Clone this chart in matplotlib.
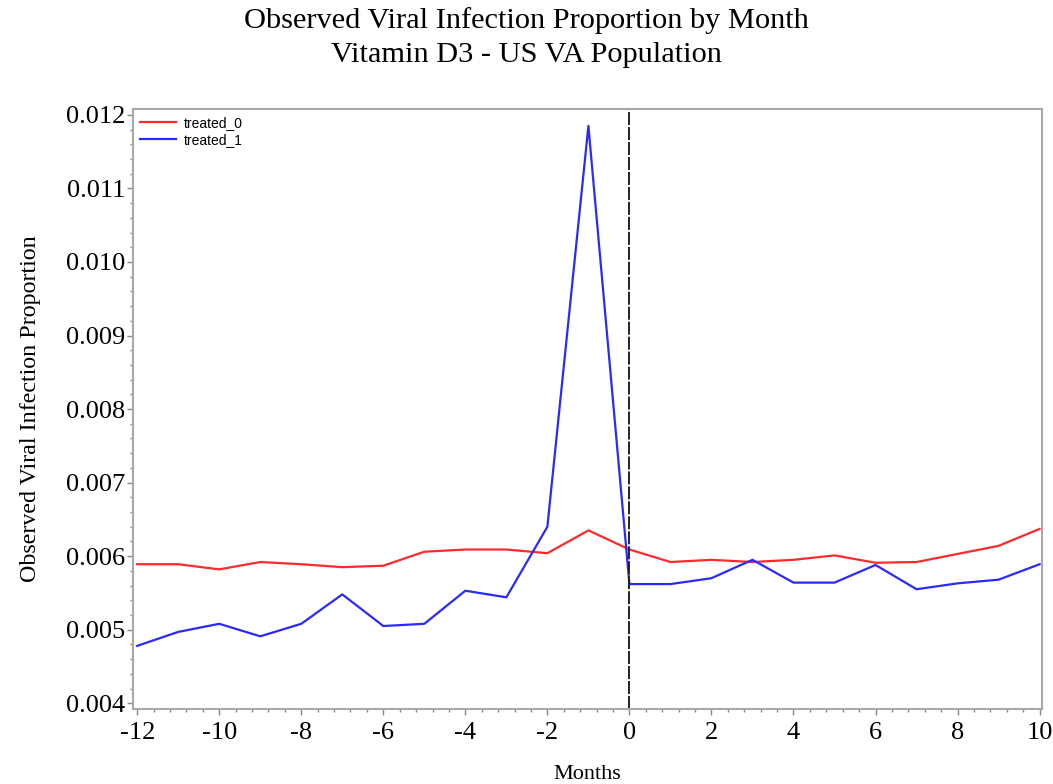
import matplotlib.pyplot as plt
from matplotlib.ticker import MultipleLocator, FormatStrFormatter

# --- data
months = list(range(-12, 11))
treated_0 = [0.00589, 0.00589, 0.00582, 0.00592, 0.00589, 0.00585, 0.00587,
             0.00606, 0.00609, 0.00609, 0.00604, 0.00635, 0.00609,
             0.00592, 0.00595, 0.00592, 0.00595, 0.00601, 0.00591,
             0.00592, 0.00603, 0.00614, 0.00637]
treated_1 = [0.00478, 0.00497, 0.00508, 0.00491, 0.00508, 0.00548, 0.00505,
             0.00508, 0.00553, 0.00544, 0.00640, 0.01185, 0.00562,
             0.00562, 0.00570, 0.00595, 0.00564, 0.00564, 0.00588,
             0.00555, 0.00563, 0.00568, 0.00589]

plt.rcParams["font.family"] = ["Liberation Serif", "DejaVu Serif"]
plt.rcParams["axes.unicode_minus"] = False

fig = plt.figure(figsize=(10.53, 7.84), dpi=100)
ax = fig.add_axes([0.126, 0.0957, 0.864, 0.7653])

ax.plot(months, treated_0, color="#ff2a2a", lw=1.6, label="treated_0")
ax.plot(months, treated_1, color="#2a2aff", lw=1.6, label="treated_1")
ax.axvline(0, color="#222222", lw=1.4, linestyle=(0, (6.7, 1.0)))

ax.set_xlim(-12.11, 10.07)
ax.set_ylim(0.003922, 0.01208)

ax.xaxis.set_major_locator(MultipleLocator(2))
ax.xaxis.set_minor_locator(MultipleLocator(0.4))
ax.yaxis.set_major_locator(MultipleLocator(0.001))
ax.yaxis.set_minor_locator(MultipleLocator(0.0002))
ax.yaxis.set_major_formatter(FormatStrFormatter("%.3f"))

ax.tick_params(which="both", direction="out", color="#888888", width=1.0)
ax.tick_params(which="major", length=4.5, labelsize=19)
ax.tick_params(which="minor", length=2.5)
ax.tick_params(axis="x", which="major", pad=5)
ax.tick_params(axis="y", which="major", pad=1)
for side in ax.spines.values():
    side.set_color("#a8a8a8")
    side.set_linewidth(1.5)

ax.set_xlabel("Months", fontsize=16, labelpad=15)
ax.set_ylabel("Observed Viral Infection Proportion", fontsize=17.3, labelpad=18)

fig.suptitle("Observed Viral Infection Proportion by Month\nVitamin D3 - US VA Population",
             fontsize=21.9, y=0.991, va="top", linespacing=1.4)

leg = ax.legend(loc="upper left", frameon=False, prop={"family": "Liberation Sans", "size": 10},
                handlelength=2.6, handletextpad=0.6, borderaxespad=0.1, labelspacing=0.2)

fig.savefig("out.png", dpi=100)
